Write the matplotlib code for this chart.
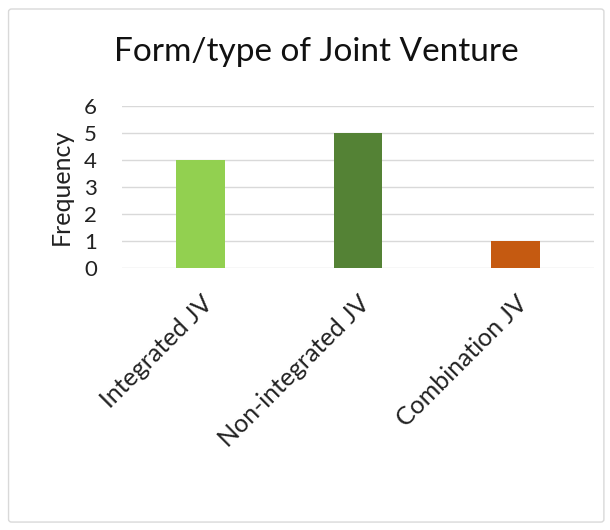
import matplotlib.pyplot as plt
from matplotlib.patches import FancyBboxPatch

categories = ['Integrated JV', 'Non-integrated JV', 'Combination JV']
frequency = [4, 5, 1]
bar_colors = ['#92D050', '#548235', '#C55A11']

plt.rcParams['font.family'] = ['Lato', 'DejaVu Sans']

fig = plt.figure(figsize=(6.1, 5.3), dpi=100)

# light chart border
border = FancyBboxPatch((0.014, 0.015), 0.976, 0.968,
                        boxstyle='round,pad=0,rounding_size=0.005',
                        transform=fig.transFigure, facecolor='none',
                        edgecolor='#D9D9D9', linewidth=1.0, zorder=-1)
fig.patches.append(border)

ax = fig.add_axes([0.2, 0.4943, 0.774, 0.3057])
ax.set_facecolor('none')
x = range(len(categories))
ax.bar(x, frequency, width=0.31, color=bar_colors, zorder=3)

ax.set_xlim(-0.5, 2.5)
ax.set_ylim(0, 6)
ax.set_yticks(range(0, 7))
ax.grid(axis='y', color='#D9D9D9', linewidth=1.0, zorder=0)
for s in ax.spines.values():
    s.set_visible(False)
ax.tick_params(axis='both', length=0, colors='#222222')
ax.tick_params(axis='y', labelsize=16, pad=18)
ax.set_xticks(list(x))
ax.set_xticklabels(categories, rotation=45, ha='right', rotation_mode='anchor')
ax.tick_params(axis='x', labelsize=18, pad=17)
ax.set_ylabel('Frequency', fontsize=18, color='#222222', labelpad=8)

fig.text(0.518, 0.902, 'Form/type of Joint Venture', ha='center', va='center',
         fontsize=24, color='#111111')

fig.savefig('out.png', dpi=100)
